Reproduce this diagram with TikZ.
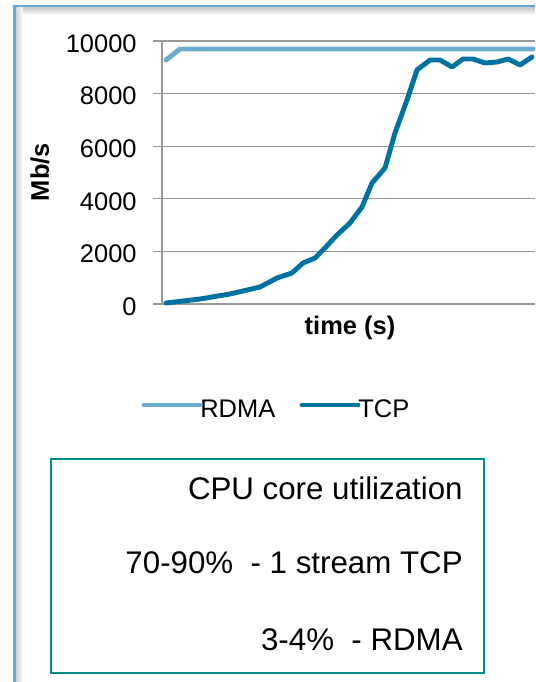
\documentclass[tikz,border=0pt]{standalone}
\usepackage{fontspec}
\setmainfont{Liberation Sans}
\definecolor{rdmablue}{RGB}{108,172,206}
\definecolor{tcpblue}{RGB}{0,114,162}
\definecolor{framblue}{RGB}{104,170,208}
\definecolor{boxteal}{RGB}{0,140,136}
\tikzset{
  rdma/.style={draw=rdmablue, line width=2.8pt, line cap=round, line join=round},
  tcp/.style={draw=tcpblue, line width=2.8pt, line cap=round, line join=round},
  gridline/.style={draw=gray!80, line width=0.7pt},
  ticklbl/.style={anchor=east, inner sep=0pt, font=\fontsize{14.5}{16}\selectfont},
  axislbl/.style={inner sep=0pt, font=\fontsize{14.5}{16}\selectfont\bfseries},
  boxtext/.style={anchor=base east, inner sep=0pt, font=\fontsize{17.8}{20}\selectfont}
}
\begin{document}
\begin{tikzpicture}[x=0.02cm, y=-0.02cm]
  \useasboundingbox (0,0) rectangle (535,682);

  % frame with its shadow
  \shade[top color=gray!45, bottom color=white] (16,7) rectangle (535,15);
  \shade[left color=gray!35, right color=white] (16,7) rectangle (23,682);
  \draw[draw=framblue, line width=1.7pt] (14.5,682) -- (14.5,6) -- (535,6);

  % grid and axis
  \foreach \v [count=\i from 0] in {0,2000,4000,6000,8000,10000} {
    \draw[gridline] (153,304-52.6*\i) -- (535,304-52.6*\i);
    \node (tick\i) [ticklbl] at (137,306.5-52.6*\i) {\v};
  }
  \draw[gridline] (162,41) -- (162,304);

  \node (ylabel) [axislbl, rotate=90] at (40,172) {Mb/s};
  \node (xlabel) [axislbl, anchor=base] at (350,334) {time (s)};

  % data
  \draw[rdma] (166,60) -- (180,49) -- (533,49);
  \draw[tcp] (166,303) -- (200,299) -- (230,294) -- (260,287) -- (277,278)
    -- (292,273) -- (303,263) -- (315,258) -- (323,250) -- (337,235)
    -- (350,223) -- (362,207) -- (372,183) -- (385,168) -- (395,133)
    -- (407,100) -- (417,70) -- (430,60) -- (440,60) -- (452,67)
    -- (463,59) -- (473,59) -- (485,63) -- (497,62) -- (508,59)
    -- (520,65) -- (532,57);

  % legend
  \node (rdmalbl) [anchor=base west, inner sep=0pt, font=\fontsize{14.5}{16}\selectfont] at (200,417) {RDMA};
  \node (tcplbl) [anchor=base west, inner sep=0pt, font=\fontsize{14.5}{16}\selectfont] at (358,417) {TCP};
  \coordinate (rdmastart) at (144,405);
  \coordinate (tcpstart) at (302,405);
  \draw[rdma] (rdmastart) -- (rdmalbl.west |- rdmastart);
  \draw[tcp] (tcpstart) -- (tcplbl.west |- tcpstart);

  % cpu box
  \node (cpubox) [draw=boxteal, line width=1.2pt, minimum width=433*0.02cm, minimum height=214*0.02cm, anchor=north west] at (49.5,457.5) {};
  \node (cpu) [boxtext] at (463,499) {CPU core utilization};
  \node (tcpuse) [boxtext] at (463,573) {70-90\%\ \ - 1 stream TCP};
  \node (rdmause) [boxtext] at (463,650) {3-4\%\ \ - RDMA};
\end{tikzpicture}
\end{document}
